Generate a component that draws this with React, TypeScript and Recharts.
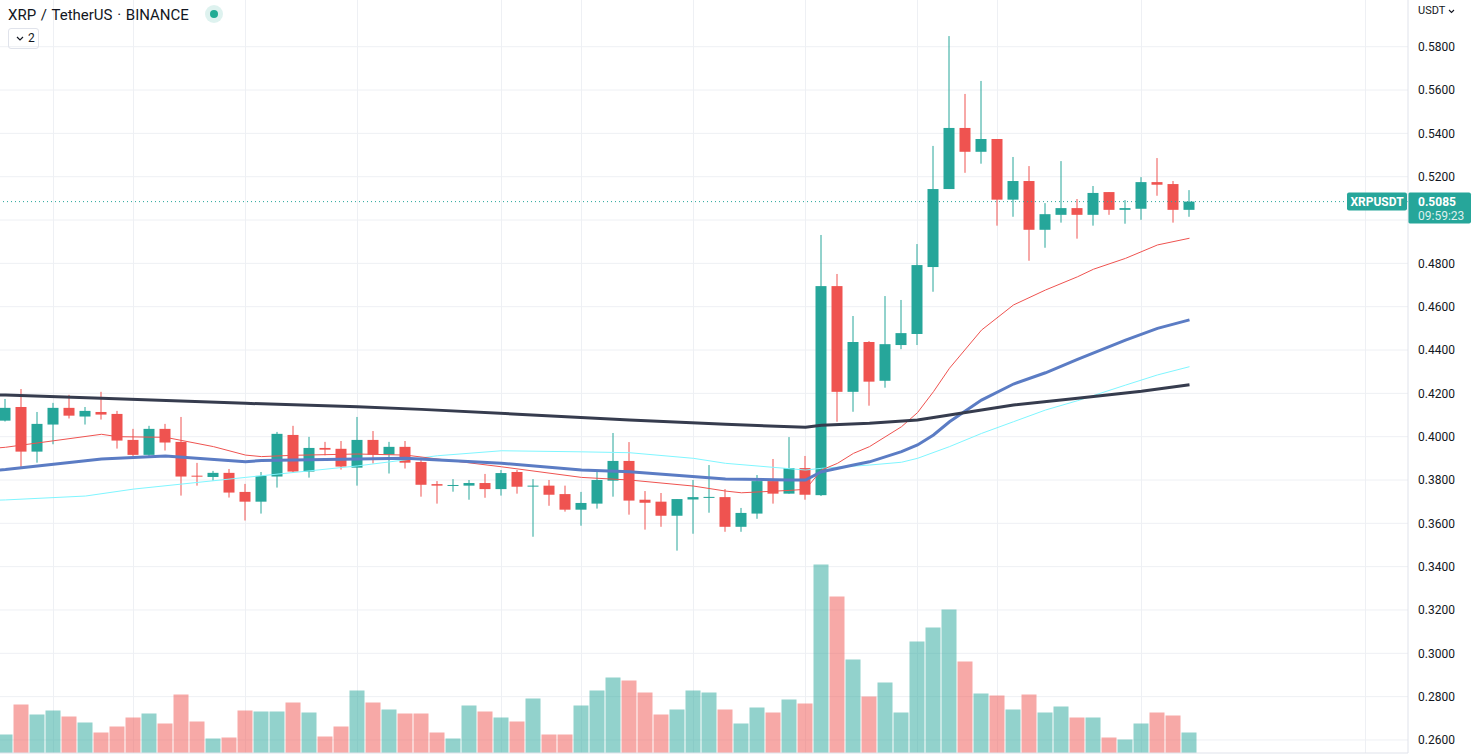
import { Bar, CartesianGrid, ComposedChart, Line, ReferenceLine, XAxis, YAxis } from "recharts";

const UP = "#26a69a";
const DOWN = "#ef5350";
const UP_VOL = "rgba(38, 166, 154, 0.5)";
const DOWN_VOL = "rgba(239, 83, 80, 0.5)";
const GRID = "#eef0f4";
const TEXT = "#131722";
const FONT = "Roboto, 'Noto Sans', sans-serif";

// daily candles, index 0 = leftmost (partly cut off)
const opens = [
  0.4074, 0.4137, 0.3931, 0.4056, 0.4133, 0.4093, 0.4114, 0.4105, 0.3985, 0.3916,
  0.4036, 0.3976, 0.382, 0.3814, 0.3833, 0.3745, 0.37, 0.3816, 0.4008, 0.3839,
  0.3948, 0.3944, 0.3857, 0.3985, 0.3917, 0.3953, 0.3883, 0.3781, 0.3774, 0.3774,
  0.3786, 0.3758, 0.3837, 0.377, 0.3774, 0.3735, 0.3663, 0.3691, 0.3797, 0.3888,
  0.3709, 0.37, 0.3635, 0.371, 0.3721, 0.3721, 0.3584, 0.3645, 0.3795, 0.3737,
  0.3855, 0.373, 0.4695, 0.4207, 0.4437, 0.4258, 0.4423, 0.4474, 0.4783, 0.5143,
  0.5425, 0.5315, 0.5374, 0.5094, 0.518, 0.4955, 0.5024, 0.5055, 0.5024, 0.5129,
  0.5047, 0.5052, 0.5175, 0.5166, 0.5047,
];
const highs = [
  0.4174, 0.422, 0.4114, 0.4156, 0.4193, 0.4137, 0.4207, 0.4119, 0.4036, 0.405,
  0.4059, 0.4091, 0.3879, 0.3842, 0.3851, 0.3782, 0.3837, 0.4022, 0.405, 0.3999,
  0.3976, 0.398, 0.4091, 0.4026, 0.3976, 0.398, 0.3905, 0.3795, 0.3804, 0.38,
  0.3828, 0.3846, 0.3846, 0.3804, 0.38, 0.3774, 0.3745, 0.3841, 0.4017, 0.3975,
  0.3749, 0.374, 0.3712, 0.38, 0.3869, 0.3758, 0.3671, 0.3823, 0.3897, 0.3998,
  0.3911, 0.4931, 0.4751, 0.4557, 0.4441, 0.4649, 0.4631, 0.4889, 0.5342, 0.5849,
  0.5582, 0.5642, 0.5374, 0.5291, 0.5249, 0.5078, 0.5272, 0.5097, 0.5157, 0.5129,
  0.5092, 0.5198, 0.5286, 0.518, 0.5138,
];
const lows = [
  0.407, 0.3859, 0.388, 0.3965, 0.4084, 0.4056, 0.4079, 0.3945, 0.3911, 0.3908,
  0.3936, 0.3728, 0.3774, 0.3797, 0.3719, 0.3613, 0.3645, 0.3765, 0.3835, 0.3811,
  0.3914, 0.3848, 0.3774, 0.3876, 0.383, 0.3853, 0.3723, 0.3691, 0.3746, 0.3709,
  0.3718, 0.3728, 0.3737, 0.3538, 0.3681, 0.3654, 0.3589, 0.3668, 0.3723, 0.364,
  0.3571, 0.3584, 0.3474, 0.3552, 0.3649, 0.3561, 0.3561, 0.3621, 0.3691, 0.3737,
  0.3709, 0.3726, 0.4069, 0.4115, 0.4143, 0.4226, 0.4404, 0.4423, 0.4669, 0.5143,
  0.5218, 0.526, 0.4974, 0.5015, 0.4812, 0.4872, 0.4988, 0.4914, 0.4974, 0.5024,
  0.4983, 0.5001, 0.5112, 0.4988, 0.5015,
];
const closes = [
  0.4133, 0.3931, 0.4059, 0.4133, 0.4097, 0.4119, 0.4102, 0.3982, 0.3916, 0.4036,
  0.3973, 0.3816, 0.3816, 0.3833, 0.3742, 0.37, 0.3819, 0.4013, 0.3839, 0.3948,
  0.394, 0.3862, 0.3985, 0.3917, 0.3953, 0.388, 0.3778, 0.3774, 0.3777, 0.3786,
  0.3758, 0.3832, 0.3769, 0.3774, 0.3732, 0.3663, 0.3694, 0.38, 0.3888, 0.3705,
  0.3695, 0.3635, 0.3712, 0.3721, 0.3722, 0.3584, 0.3648, 0.3795, 0.3737, 0.3855,
  0.3732, 0.4695, 0.4207, 0.4437, 0.4254, 0.4427, 0.4478, 0.4792, 0.5143, 0.5425,
  0.5315, 0.5374, 0.5094, 0.518, 0.4955, 0.5027, 0.5055, 0.5024, 0.5125, 0.5047,
  0.5055, 0.5175, 0.5163, 0.5047, 0.5085,
];
// volume, millions XRP
const volumes = [
  37, 97, 77, 85, 73, 61, 41, 53, 71, 79,
  59, 117, 63, 29, 31, 85, 83, 83, 101, 81,
  33, 53, 125, 101, 87, 79, 79, 41, 29, 95,
  83, 71, 63, 109, 37, 37, 95, 125, 151, 145,
  121, 77, 87, 125, 121, 87, 59, 91, 81, 107,
  99, 377, 313, 187, 113, 141, 81, 223, 251, 287,
  183, 119, 115, 87, 117, 81, 93, 71, 71, 31,
  27, 59, 81, 75, 41,
];

// moving averages as [candle index, value]
const maFast: [number, number][] = [
  [-1, 0.3945], [0, 0.3951], [6, 0.4011], [7, 0.4], [10, 0.3997], [13, 0.3954], [15, 0.3915],
  [16, 0.3908], [18, 0.3914], [22, 0.392], [25, 0.3915], [31, 0.3861], [36, 0.3812],
  [39, 0.38], [43, 0.3772], [45, 0.3749], [46, 0.3741], [49, 0.3752], [50, 0.3757],
  [51, 0.3846], [52, 0.3877], [53, 0.3923], [54, 0.3954], [56, 0.4046], [57, 0.4111],
  [58, 0.4208], [59, 0.4316], [61, 0.4492], [63, 0.4608], [65, 0.4677], [67, 0.4738],
  [68, 0.4773], [70, 0.4823], [72, 0.4885], [74, 0.4916],
];
const maMid: [number, number][] = [
  [-1, 0.3843], [0, 0.3848], [6, 0.3897], [10, 0.3911], [15, 0.3884], [16, 0.389], [22, 0.3897],
  [25, 0.39], [31, 0.3877], [36, 0.3846], [39, 0.3838], [45, 0.3805], [49, 0.38],
  [50, 0.38], [51, 0.3838], [53, 0.3869], [54, 0.3884], [56, 0.3931], [57, 0.3962],
  [58, 0.4008], [59, 0.4069], [61, 0.4169], [63, 0.4243], [65, 0.4295], [67, 0.4357],
  [70, 0.4446], [72, 0.45], [74, 0.4539],
];
const maSlow: [number, number][] = [
  [-1, 0.3706], [0, 0.3708], [5, 0.3726], [8, 0.3758], [15, 0.3812], [22, 0.3865], [25, 0.3893],
  [27, 0.3912], [31, 0.3935], [36, 0.393], [39, 0.3926], [43, 0.39], [45, 0.3877],
  [50, 0.3846], [51, 0.3854], [54, 0.3869], [56, 0.3882], [57, 0.39], [59, 0.3954],
  [61, 0.4015], [63, 0.4069], [65, 0.4123], [67, 0.4166], [70, 0.4238], [72, 0.4285],
  [74, 0.4323],
];
const maLong: [number, number][] = [
  [-1, 0.4193], [0, 0.4192], [6, 0.4177], [15, 0.4154], [22, 0.4138], [26, 0.4126], [32, 0.4104],
  [39, 0.4077], [45, 0.4057], [50, 0.4043], [51, 0.4053], [54, 0.4062], [57, 0.4077],
  [59, 0.41], [61, 0.4123], [63, 0.4146], [67, 0.4177], [71, 0.421], [74, 0.424],
];

const priceTicks = [0.26, 0.28, 0.3, 0.32, 0.34, 0.36, 0.38, 0.4, 0.42, 0.44, 0.46, 0.48, 0.52, 0.54, 0.56, 0.58];
const priceGrid = [0.26, 0.28, 0.3, 0.32, 0.34, 0.36, 0.38, 0.4, 0.42, 0.44, 0.46, 0.48, 0.5, 0.52, 0.54, 0.56, 0.58];
const dateGrid = [3, 8, 15, 22, 31, 36, 43, 50, 57, 62, 71, 85];
const lastPrice = 0.5085;
const countdown = "09:59:23";

const X_DOMAIN: [number, number] = [-0.34375, 87.65625];
const P_DOMAIN: [number, number] = [0.25399, 0.60156];
const V_DOMAIN: [number, number] = [0, 1506];

type Row = {
  k: number;
  open?: number;
  close?: number;
  high?: number;
  low?: number;
  range?: [number, number];
  volume?: number;
  maFast?: number;
  maMid?: number;
  maSlow?: number;
  maLong?: number;
};

const rows: Row[] = [{ k: -1 }];
opens.forEach((open, i) => {
  rows.push({
    k: i,
    open,
    close: closes[i],
    high: highs[i],
    low: lows[i],
    range: [lows[i], highs[i]],
    volume: volumes[i],
  });
});
const addMa = (points: [number, number][], key: "maFast" | "maMid" | "maSlow" | "maLong") => {
  points.forEach(([k, v]) => {
    rows[k + 1][key] = v;
  });
};
addMa(maFast, "maFast");
addMa(maMid, "maMid");
addMa(maSlow, "maSlow");
addMa(maLong, "maLong");

function Candle(props: any) {
  const { x, y, width, height, payload } = props;
  if (!payload || payload.open == null || !Number.isFinite(y) || !Number.isFinite(height)) return <g />;
  const { open, close, high, low } = payload;
  const color = close >= open ? UP : DOWN;
  const cx = x + width / 2;
  const ratio = height / (high - low);
  const top = y + (high - Math.max(open, close)) * ratio;
  const bottom = y + (high - Math.min(open, close)) * ratio;
  return (
    <g>
      <line x1={cx} x2={cx} y1={y} y2={y + height} stroke={color} strokeWidth={1} />
      <rect x={cx - 5.5} y={top} width={11} height={Math.max(1, bottom - top)} fill={color} />
    </g>
  );
}

function VolumeBar(props: any) {
  const { x, y, width, height, payload } = props;
  if (!payload || payload.volume == null || !Number.isFinite(height)) return <g />;
  const cx = x + width / 2;
  return (
    <rect
      x={cx - 7.5}
      y={y}
      width={15}
      height={height}
      fill={payload.close >= payload.open ? UP_VOL : DOWN_VOL}
    />
  );
}

function PriceTag(props: any) {
  const vb = props.viewBox;
  if (!vb) return null;
  const y = vb.y;
  const right = vb.x + vb.width;
  return (
    <g fontFamily={FONT} fontSize={12}>
      <rect x={right - 61} y={y - 9} width={60} height={18} fill={UP} rx={2} />
      <text x={right - 31} y={y + 4} textAnchor="middle" fill="#fff" fontWeight={700}>
        XRPUSDT
      </text>
      <rect x={right} y={y - 9} width={63} height={31} fill={UP} rx={2} />
      <text x={right + 10} y={y + 4} fill="#fff" fontWeight={700}>
        {lastPrice.toFixed(4)}
      </text>
      <text x={right + 10} y={y + 18} fill="rgba(255,255,255,0.85)">
        {countdown}
      </text>
    </g>
  );
}

export default function App() {
  return (
    <div
      style={{
        position: "absolute",
        left: 0,
        top: 0,
        width: 1477,
        height: 755,
        background: "#fff",
        fontFamily: FONT,
        overflow: "hidden",
      }}
    >
      <ComposedChart width={1477} height={755} data={rows} margin={{ top: 0, right: 0, bottom: 2, left: 0 }}>
        <XAxis xAxisId="px" dataKey="k" type="number" domain={X_DOMAIN} allowDataOverflow hide />
        <XAxis xAxisId="vx" dataKey="k" type="number" domain={X_DOMAIN} allowDataOverflow hide />
        <YAxis
          yAxisId="price"
          orientation="right"
          type="number"
          domain={P_DOMAIN}
          allowDataOverflow
          ticks={priceTicks}
          interval={0}
          width={69}
          tickSize={0}
          tickMargin={10}
          tickLine={false}
          axisLine={{ stroke: "#e0e3eb" }}
          tick={{ fill: TEXT, fontSize: 12, fontFamily: FONT }}
          tickFormatter={(v: number) => v.toFixed(4)}
        />
        <YAxis yAxisId="vol" type="number" domain={V_DOMAIN} allowDataOverflow hide />
        <CartesianGrid
          xAxisId="px"
          yAxisId="price"
          stroke={GRID}
          horizontalValues={priceGrid}
          verticalValues={dateGrid}
        />
        <ReferenceLine yAxisId="price" xAxisId="px" y={P_DOMAIN[0]} stroke="#e0e3eb" ifOverflow="visible" />
        <Bar
          xAxisId="vx"
          yAxisId="vol"
          dataKey="volume"
          barSize={15}
          shape={VolumeBar}
          isAnimationActive={false}
        />
        <Bar
          xAxisId="px"
          yAxisId="price"
          dataKey="range"
          barSize={11}
          shape={Candle}
          isAnimationActive={false}
        />
        <ReferenceLine
          xAxisId="px"
          yAxisId="price"
          y={lastPrice}
          stroke={UP}
          strokeDasharray="1 3"
          label={(p: any) => <PriceTag {...p} />}
        />
        <Line xAxisId="px" yAxisId="price" dataKey="maSlow" stroke="#7ff6ff" strokeWidth={1} dot={false} activeDot={false} connectNulls isAnimationActive={false} />
        <Line xAxisId="px" yAxisId="price" dataKey="maFast" stroke="#ef5350" strokeWidth={1} dot={false} activeDot={false} connectNulls isAnimationActive={false} />
        <Line xAxisId="px" yAxisId="price" dataKey="maMid" stroke="#5b7cc4" strokeWidth={3} dot={false} activeDot={false} connectNulls isAnimationActive={false} />
        <Line xAxisId="px" yAxisId="price" dataKey="maLong" stroke="#363c4e" strokeWidth={3} dot={false} activeDot={false} connectNulls isAnimationActive={false} />
      </ComposedChart>

      <div
        style={{
          position: "absolute",
          left: 8,
          top: 5,
          height: 20,
          lineHeight: "20px",
          fontSize: 15,
          color: TEXT,
          whiteSpace: "nowrap",
          wordSpacing: 1,
        }}
      >
        XRP / TetherUS · BINANCE
      </div>
      <div
        style={{
          position: "absolute",
          left: 205,
          top: 5,
          width: 18,
          height: 18,
          borderRadius: 9,
          background: "rgba(34, 171, 148, 0.15)",
        }}
      >
        <div
          style={{
            position: "absolute",
            left: 5,
            top: 5,
            width: 8,
            height: 8,
            borderRadius: 4,
            background: "#22ab94",
          }}
        />
      </div>
      <div
        style={{
          position: "absolute",
          left: 8,
          top: 28,
          width: 29,
          height: 19,
          border: "1px solid #e0e3eb",
          borderRadius: 3,
          fontSize: 12,
          color: TEXT,
          lineHeight: "19px",
        }}
      >
        <svg width={8} height={6} style={{ position: "absolute", left: 7, top: 7 }}>
          <path d="M1 1 L4 4 L7 1" fill="none" stroke={TEXT} strokeWidth={1.2} />
        </svg>
        <span style={{ position: "absolute", left: 19, top: 0 }}>2</span>
      </div>
      <div
        style={{
          position: "absolute",
          left: 1418,
          top: 4,
          fontSize: 11,
          color: TEXT,
          lineHeight: "14px",
          whiteSpace: "nowrap",
        }}
      >
        USDT
        <svg width={7} height={5} style={{ marginLeft: 3, verticalAlign: "middle" }}>
          <path d="M1 1 L3.5 3.5 L6 1" fill="none" stroke={TEXT} strokeWidth={1.1} />
        </svg>
      </div>
    </div>
  );
}
